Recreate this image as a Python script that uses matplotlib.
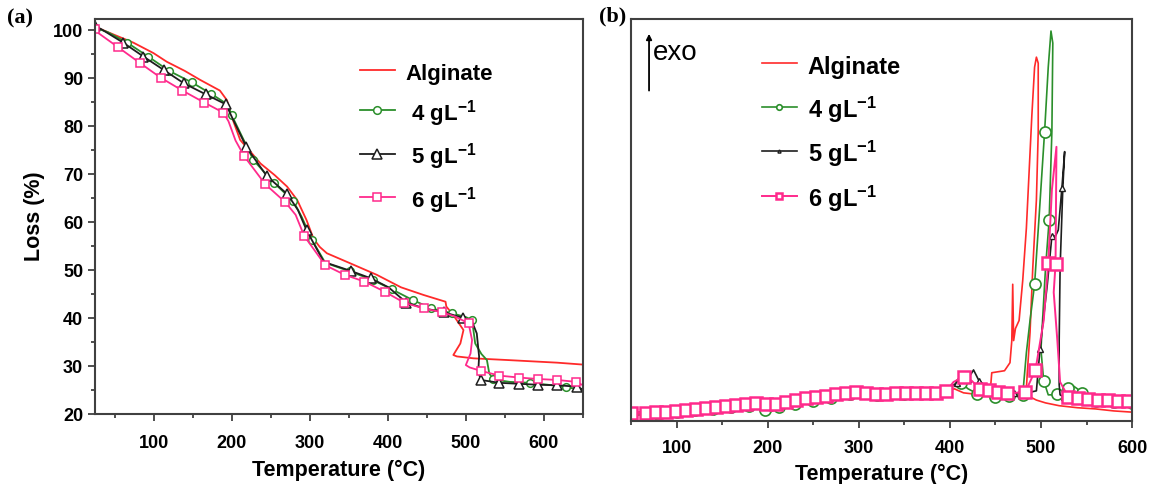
import matplotlib
matplotlib.use('Agg')
import matplotlib.pyplot as plt
from matplotlib.ticker import MultipleLocator

# ---------------- TGA data, panel (a) ----------------
tga_alg_T = [25, 50, 74, 100, 117, 140, 160, 185, 194, 200, 211, 225, 237, 255, 271, 284, 296, 305,
             313, 322, 352, 386, 417, 446, 474, 475, 484, 497, 493, 484, 488.5, 510, 553, 617, 650]
tga_alg_L = [100.7, 99.0, 97.4, 95.2, 93.4, 91.5, 89.6, 87.4, 85.4, 82.0, 77.1, 74.5, 72.2, 69.8, 67.4, 64.6, 60.4, 56.5,
             54.8, 53.5, 51.4, 49.0, 46.4, 44.8, 43.4, 42.4, 40.6, 37.5, 34.7, 32.3, 32.0, 31.6, 31.25, 30.7, 30.3]

tga_4_T = [25, 41, 66, 93, 120, 149, 174, 195, 200, 228, 254, 279, 290, 303, 320, 352, 381, 405, 432, 456,
           482, 500, 508, 512, 520, 527, 530, 535, 556, 582, 605, 628, 650]
tga_4_L = [100.5, 99.6, 97.4, 94.5, 91.5, 89.1, 86.7, 84.5, 82.3, 72.9, 68.2, 64.4, 61.0, 56.25, 51.5, 49.7, 47.9, 46.0, 43.75, 42.0,
           41.0, 40.2, 39.6, 34.7, 32.5, 31.25, 28.5, 27.2, 26.7, 26.5, 26.1, 25.6, 25.0]

tga_5_T = [25, 33, 61, 87, 113, 139, 167, 193, 200, 219, 245, 271.5, 285, 296, 318, 353, 378, 401, 424, 447,
           472, 497, 508, 514, 517, 516, 519, 543, 568, 592, 617, 642, 650]
tga_5_L = [100.8, 100.2, 97.4, 94.5, 91.7, 88.9, 86.6, 84.5, 82.0, 75.6, 69.6, 65.8, 62.5, 58.3, 51.7, 49.8, 48.3, 46.4, 43.2, 42.0,
           41.2, 40.0, 39.25, 36.8, 32.0, 29.0, 27.1, 26.5, 26.3, 26.1, 26.0, 25.7, 25.1]

tga_6_T = [25, 30, 54, 83, 109, 137, 165, 189.5, 196, 205, 216, 243, 269, 282, 293, 320, 345, 370, 396, 421,
           446, 470, 486.5, 503.5, 508, 506, 500, 505, 519, 543, 568, 592, 617, 641, 650]
tga_6_L = [100.3, 99.3, 96.5, 93.1, 90.1, 87.4, 84.9, 82.8, 81.0, 77.0, 73.75, 67.9, 64.1, 61.5, 57.1, 51.0, 49.0, 47.6, 45.5, 43.2,
           42.0, 41.2, 40.3, 38.9, 35.4, 32.6, 30.2, 29.7, 29.0, 28.0, 27.6, 27.3, 27.1, 26.7, 26.0]

# ---------------- DSC data, panel (b) (arbitrary heat flow units) ----------------
dsc_alg_T = [50, 60, 80, 100, 120, 140, 160, 180, 190, 195, 200, 205, 212, 230, 250, 270, 290, 300, 320, 350,
             380, 395, 405, 415, 430, 444, 446, 460, 466, 468, 469, 470, 472, 476, 480, 484, 487, 490, 493, 495,
             497, 497, 495, 491, 488, 485, 484, 488, 495, 505, 520, 540, 560, 580, 600]
dsc_alg_v = [1.5, 1.8, 2.0, 2.3, 2.8, 3.2, 3.6, 3.9, 3.8, 3.0, 2.0, 2.5, 3.8, 4.3, 5.0, 5.8, 6.5, 6.5, 6.4, 6.5,
             6.8, 7.3, 8.0, 7.0, 6.6, 6.5, 12.0, 12.5, 14.5, 20.0, 34.0, 20.0, 23.0, 25.0, 35.0, 48.0, 62.0, 76.0, 88.0, 90.5,
             89.0, 72.0, 55.0, 38.0, 22.0, 12.0, 8.0, 6.0, 5.2, 4.5, 3.8, 3.3, 3.0, 2.5, 2.2]

dsc_4_T = [50, 60, 80, 100, 120, 140, 160, 180, 190, 197, 200, 205, 212, 230, 250, 270, 290, 300, 320, 350,
           380, 395, 405, 412, 420, 430, 440, 450, 465, 480, 484, 488, 493, 498, 504, 508, 511, 513, 512, 509,
           505, 501, 500, 503, 508, 512, 518, 523, 530, 535, 540, 545, 550, 560, 580, 600]
dsc_4_v = [1.2, 1.5, 1.8, 2.2, 2.7, 3.0, 3.4, 3.8, 3.8, 2.8, 2.0, 2.5, 3.6, 4.3, 5.0, 5.8, 6.6, 6.6, 6.5, 6.6,
           6.9, 7.5, 9.0, 9.5, 8.0, 6.8, 6.2, 6.0, 6.3, 6.5, 17.0, 25.0, 34.0, 51.0, 72.0, 88.0, 97.0, 94.0, 72.0, 50.0,
           38.0, 22.0, 17.7, 10.0, 6.5, 6.5, 6.8, 7.3, 8.3, 8.8, 8.0, 7.0, 5.8, 5.0, 4.8, 4.4]

dsc_5_T = [50, 60, 80, 100, 120, 140, 160, 180, 190, 200, 210, 230, 250, 270, 290, 300, 320, 350, 380, 395,
           408, 415, 420, 426, 432, 438, 445, 455, 470, 485, 495, 499, 503, 507, 512, 516, 519, 523, 525, 526,
           524, 521, 520, 520, 521, 525, 535, 550, 570, 600]
dsc_5_v = [2.0, 2.2, 2.4, 2.7, 3.2, 3.6, 4.0, 4.4, 4.6, 4.3, 4.3, 4.8, 5.6, 6.3, 7.0, 7.1, 6.9, 7.0, 7.2, 7.8,
           9.5, 12.0, 10.5, 12.7, 10.0, 9.0, 8.0, 7.3, 7.0, 7.0, 7.5, 18.0, 26.0, 34.0, 46.0, 46.0, 47.5, 58.0, 64.0, 67.0,
           58.0, 38.0, 20.0, 9.0, 6.5, 6.0, 5.5, 5.2, 5.0, 4.5]

dsc_6_T = [50, 55, 66, 77, 88, 99, 110, 121, 132, 143, 154, 165, 176, 187, 198, 209, 220, 231, 242, 253,
           264, 275, 286, 297, 308, 319, 330, 341, 352, 363, 374, 385, 396, 404, 415, 424, 433, 443, 453, 463,
           472, 483, 494, 503, 508, 512, 517, 516, 514, 518, 521, 530, 541, 552, 563, 574, 585, 596, 600]
dsc_6_v = [2.0, 2.1, 2.1, 2.2, 2.3, 2.5, 2.7, 3.0, 3.2, 3.5, 3.8, 4.0, 4.2, 4.5, 4.2, 4.3, 4.8, 5.2, 5.6, 6.0,
           6.3, 6.6, 6.9, 7.1, 6.9, 6.8, 6.8, 6.9, 6.9, 7.0, 7.0, 7.0, 7.4, 9.7, 11.0, 10.0, 8.0, 7.7, 7.3, 7.0,
           7.0, 7.3, 12.7, 25.0, 39.2, 57.5, 68.2, 39.0, 32.0, 20.0, 9.7, 6.0, 5.6, 5.4, 5.3, 5.2, 5.0, 4.9, 4.8]

labels_a = ['Alginate', r' 4 gL$^{-1}$', r' 5 gL$^{-1}$', r' 6 gL$^{-1}$']
labels_b = ['Alginate', r'4 gL$^{-1}$', r'5 gL$^{-1}$', r'6 gL$^{-1}$']

RED = '#ff2a2a'
GREEN = '#2b8f2b'
BLACK = '#1e1e1e'
PINK = '#ff2a8c'
FRAME = '#404040'

plt.rcParams['font.family'] = ['Liberation Sans', 'DejaVu Sans']
plt.rcParams['font.weight'] = 'bold'
plt.rcParams['mathtext.fontset'] = 'custom'
plt.rcParams['mathtext.rm'] = 'Liberation Sans:bold'
plt.rcParams['mathtext.it'] = 'Liberation Sans:bold'
plt.rcParams['mathtext.bf'] = 'Liberation Sans:bold'


def spaced(T, step):
    # marker indices roughly every `step` degrees along the curve
    idx = [0]
    acc = 0
    for i in range(1, len(T)):
        acc += abs(T[i] - T[i - 1])
        if acc >= step:
            idx.append(i)
            acc = 0
    return idx


def frame(ax, pad):
    for s in ax.spines.values():
        s.set_color(FRAME)
        s.set_linewidth(1.5)
    ax.tick_params(which='both', direction='out', color=FRAME, width=1.3, labelsize=13)
    ax.tick_params(which='major', length=5)
    ax.tick_params(which='minor', length=3)
    ax.tick_params(axis='x', which='major', pad=pad)


fig = plt.figure(figsize=(11.5, 4.84), dpi=100)

# ---------------- panel (a) ----------------
ax1 = fig.add_axes([0.0826, 0.1446, 0.4243, 0.816])
ax1.plot(tga_alg_T, tga_alg_L, color=RED, lw=1.3, label=labels_a[0])
ax1.plot(tga_4_T, tga_4_L, color=GREEN, lw=1.3, marker='o', ms=5.5, mfc='white', mew=1.1,
         markevery=spaced(tga_4_T, 24), label=labels_a[1])
ax1.plot(tga_5_T, tga_5_L, color=BLACK, lw=1.3, marker='^', ms=6.5, mfc='white', mew=1.1,
         markevery=spaced(tga_5_T, 24), label=labels_a[2])
ax1.plot(tga_6_T, tga_6_L, color=PINK, lw=1.3, marker='s', ms=5.5, mfc='white', mew=1.1,
         markevery=spaced(tga_6_T, 24), label=labels_a[3])
ax1.set_xlim(25, 650)
ax1.set_ylim(20, 102.3)
ax1.xaxis.set_major_locator(MultipleLocator(100))
ax1.xaxis.set_minor_locator(MultipleLocator(50))
ax1.yaxis.set_major_locator(MultipleLocator(10))
ax1.yaxis.set_minor_locator(MultipleLocator(5))
frame(ax1, 10)
ax1.set_xlabel('Temperature (°C)', fontsize=15.5, fontweight='bold', labelpad=6)
ax1.set_ylabel('Loss (%)', fontsize=15.5, fontweight='bold', labelpad=6)
ax1.legend(loc='upper left', bbox_to_anchor=(0.543, 0.8975), frameon=False, fontsize=16,
           handlelength=1.58, handletextpad=0.45, labelspacing=0.57, handleheight=1.4,
           borderpad=0, borderaxespad=0, numpoints=1)

# ---------------- panel (b) ----------------
ax2 = fig.add_axes([0.5487, 0.1302, 0.4357, 0.8306])
ax2.plot(dsc_alg_T, dsc_alg_v, color=RED, lw=1.2, label=labels_b[0])
ax2.plot(dsc_4_T, dsc_4_v, color=GREEN, lw=1.2, marker='o', ms=8, mfc='white', mew=1.2,
         markevery=spaced(dsc_4_T, 11), label=labels_b[1])
ax2.plot(dsc_5_T, dsc_5_v, color=BLACK, lw=1.2, marker='^', ms=4.5, mfc='white', mew=1.0,
         markevery=spaced(dsc_5_T, 11), label=labels_b[2])
ax2.plot(dsc_6_T, dsc_6_v, color=PINK, lw=1.4, marker='s', ms=8, mfc='white', mew=1.8,
         markevery=spaced(dsc_6_T, 10), label=labels_b[3])
ax2.set_xlim(50, 600)
ax2.set_ylim(0, 100)
ax2.xaxis.set_major_locator(MultipleLocator(100))
ax2.xaxis.set_minor_locator(MultipleLocator(50))
ax2.set_yticks([])
frame(ax2, 8.5)
ax2.set_xlabel('Temperature (°C)', fontsize=15.5, fontweight='bold', labelpad=5.5)
ax2.legend(loc='upper left', bbox_to_anchor=(0.261, 0.916), frameon=False, fontsize=17,
           handlelength=1.48, handletextpad=0.47, labelspacing=0.61, handleheight=1.4,
           borderpad=0, borderaxespad=0, numpoints=1, markerscale=0.5)

# exo arrow
ax2.annotate('', xy=(0.036, 0.97), xytext=(0.036, 0.815), xycoords='axes fraction',
             arrowprops=dict(arrowstyle='-|>', color='black', lw=1.3, mutation_scale=8))
ax2.text(0.043, 0.915, 'exo', transform=ax2.transAxes, fontsize=20, fontweight='normal',
         va='center', ha='left')

# panel letters
fig.text(0.006, 0.962, '(a)', fontsize=16, fontweight='bold', family='Liberation Serif', va='center')
fig.text(0.521, 0.965, '(b)', fontsize=16, fontweight='bold', family='Liberation Serif', va='center')

fig.savefig('out.png', dpi=100)
